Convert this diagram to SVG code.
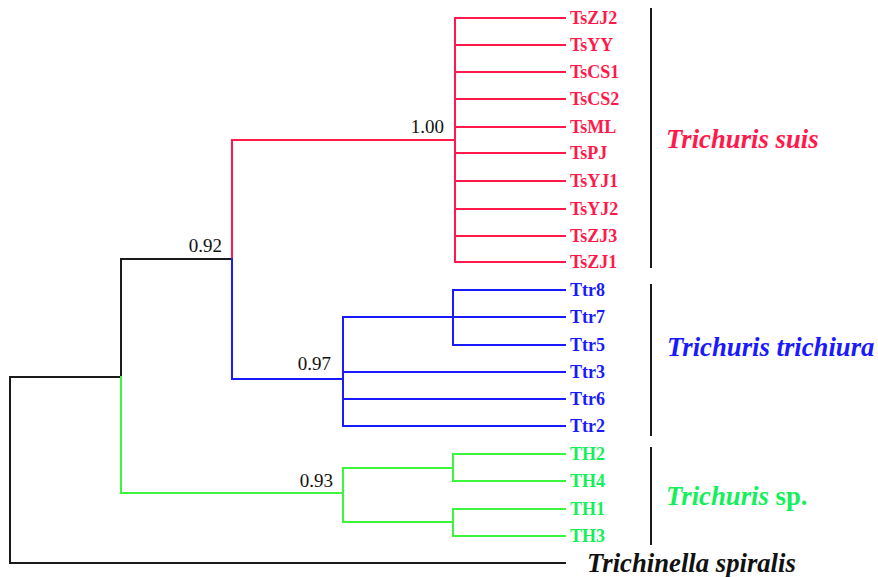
<svg xmlns="http://www.w3.org/2000/svg" width="878" height="577" viewBox="0 0 878 577">
  <style>
    .br { fill: none; stroke-width: 2; stroke-linecap: square; }
    .red { stroke: #ff1a4b; }
    .blue { stroke: #1a1aff; }
    .green { stroke: #3cf53c; }
    .blk { stroke: #1a1a1a; }
    .bar { stroke: #1a1a1a; stroke-width: 2; }
    text { font-family: 'Liberation Serif', 'DejaVu Serif', serif; }
    .leaf { font-weight: bold; font-size: 18px; }
    .clade { font-weight: bold; font-style: italic; font-size: 26.7px; }
    .sup { font-size: 19px; fill: #111; text-anchor: end; }
    .tr { fill: #ff1a4b; }
    .tb { fill: #1a1aff; }
    .tg { fill: #14f05a; }
    .tk { fill: #111; }
  </style>

  <rect width="878" height="577" fill="#ffffff"/>

  <!-- branches of the tree -->
  <g id="connectors">
    <!-- root -->
    <path class="br blk" d="M10,377 V563 H565"/>
    <path class="br blk" d="M10,377 H121 V259 H232"/>
    <!-- Trichuris sp. clade -->
    <path class="br green" d="M121,377 V493 H343"/>
    <path class="br green" d="M343,468 V522"/>
    <path class="br green" d="M343,468 H453 M343,522 H453"/>
    <path class="br green" d="M453,454 V481 M453,509 V536"/>
    <path class="br green" d="M453,454 H565 M453,481 H565 M453,509 H565 M453,536 H565"/>
    <!-- Trichuris suis clade -->
    <path class="br red" d="M232,259 V140 H455"/>
    <path class="br red" d="M455,18 V262"/>
    <path class="br red" d="M455,18 H565 M455,45 H565 M455,72 H565 M455,99 H565 M455,127 H565 M455,153 H565 M455,181 H565 M455,209 H565 M455,236 H565 M455,262 H565"/>
    <!-- Trichuris trichiura clade -->
    <path class="br blue" d="M232,259 V379 H343"/>
    <path class="br blue" d="M343,317 V426"/>
    <path class="br blue" d="M343,317 H453 M453,290 V345"/>
    <path class="br blue" d="M453,290 H565 M453,317 H565 M453,345 H565"/>
    <path class="br blue" d="M343,372 H565 M343,399 H565 M343,426 H565"/>
  </g>

  <!-- support values -->
  <g id="support">
    <text class="sup" x="444" y="133">1.00</text>
    <text class="sup" x="222" y="252">0.92</text>
    <text class="sup" x="331" y="370">0.97</text>
    <text class="sup" x="333" y="487">0.93</text>
  </g>

  <!-- leaves -->
  <g id="TsZJ2"><text class="leaf tr" x="570" y="24">TsZJ2</text></g>
  <g id="TsYY"><text class="leaf tr" x="570" y="51">TsYY</text></g>
  <g id="TsCS1"><text class="leaf tr" x="570" y="78">TsCS1</text></g>
  <g id="TsCS2"><text class="leaf tr" x="570" y="105">TsCS2</text></g>
  <g id="TsML"><text class="leaf tr" x="570" y="133">TsML</text></g>
  <g id="TsPJ"><text class="leaf tr" x="570" y="159">TsPJ</text></g>
  <g id="TsYJ1"><text class="leaf tr" x="570" y="187">TsYJ1</text></g>
  <g id="TsYJ2"><text class="leaf tr" x="570" y="215">TsYJ2</text></g>
  <g id="TsZJ3"><text class="leaf tr" x="570" y="242">TsZJ3</text></g>
  <g id="TsZJ1"><text class="leaf tr" x="570" y="268">TsZJ1</text></g>

  <g id="Ttr8"><text class="leaf tb" x="570" y="296">Ttr8</text></g>
  <g id="Ttr7"><text class="leaf tb" x="570" y="323">Ttr7</text></g>
  <g id="Ttr5"><text class="leaf tb" x="570" y="351">Ttr5</text></g>
  <g id="Ttr3"><text class="leaf tb" x="570" y="378">Ttr3</text></g>
  <g id="Ttr6"><text class="leaf tb" x="570" y="405">Ttr6</text></g>
  <g id="Ttr2"><text class="leaf tb" x="570" y="432">Ttr2</text></g>

  <g id="TH2"><text class="leaf tg" x="570" y="460">TH2</text></g>
  <g id="TH4"><text class="leaf tg" x="570" y="487">TH4</text></g>
  <g id="TH1"><text class="leaf tg" x="570" y="515">TH1</text></g>
  <g id="TH3"><text class="leaf tg" x="570" y="542">TH3</text></g>

  <g id="Trichinella-spiralis"><text class="clade tk" x="587" y="572">Trichinella spiralis</text></g>

  <!-- clade brackets and names -->
  <g id="clade-suis">
    <line class="bar" x1="651" y1="8" x2="651" y2="268"/>
    <text class="clade tr" x="666" y="148">Trichuris suis</text>
  </g>
  <g id="clade-trichiura">
    <line class="bar" x1="651" y1="284" x2="651" y2="436"/>
    <text class="clade tb" x="667" y="356">Trichuris trichiura</text>
  </g>
  <g id="clade-sp">
    <line class="bar" x1="651" y1="447" x2="651" y2="545"/>
    <text class="clade tg" x="666" y="505">Trichuris <tspan font-style="normal">sp.</tspan></text>
  </g>
</svg>
